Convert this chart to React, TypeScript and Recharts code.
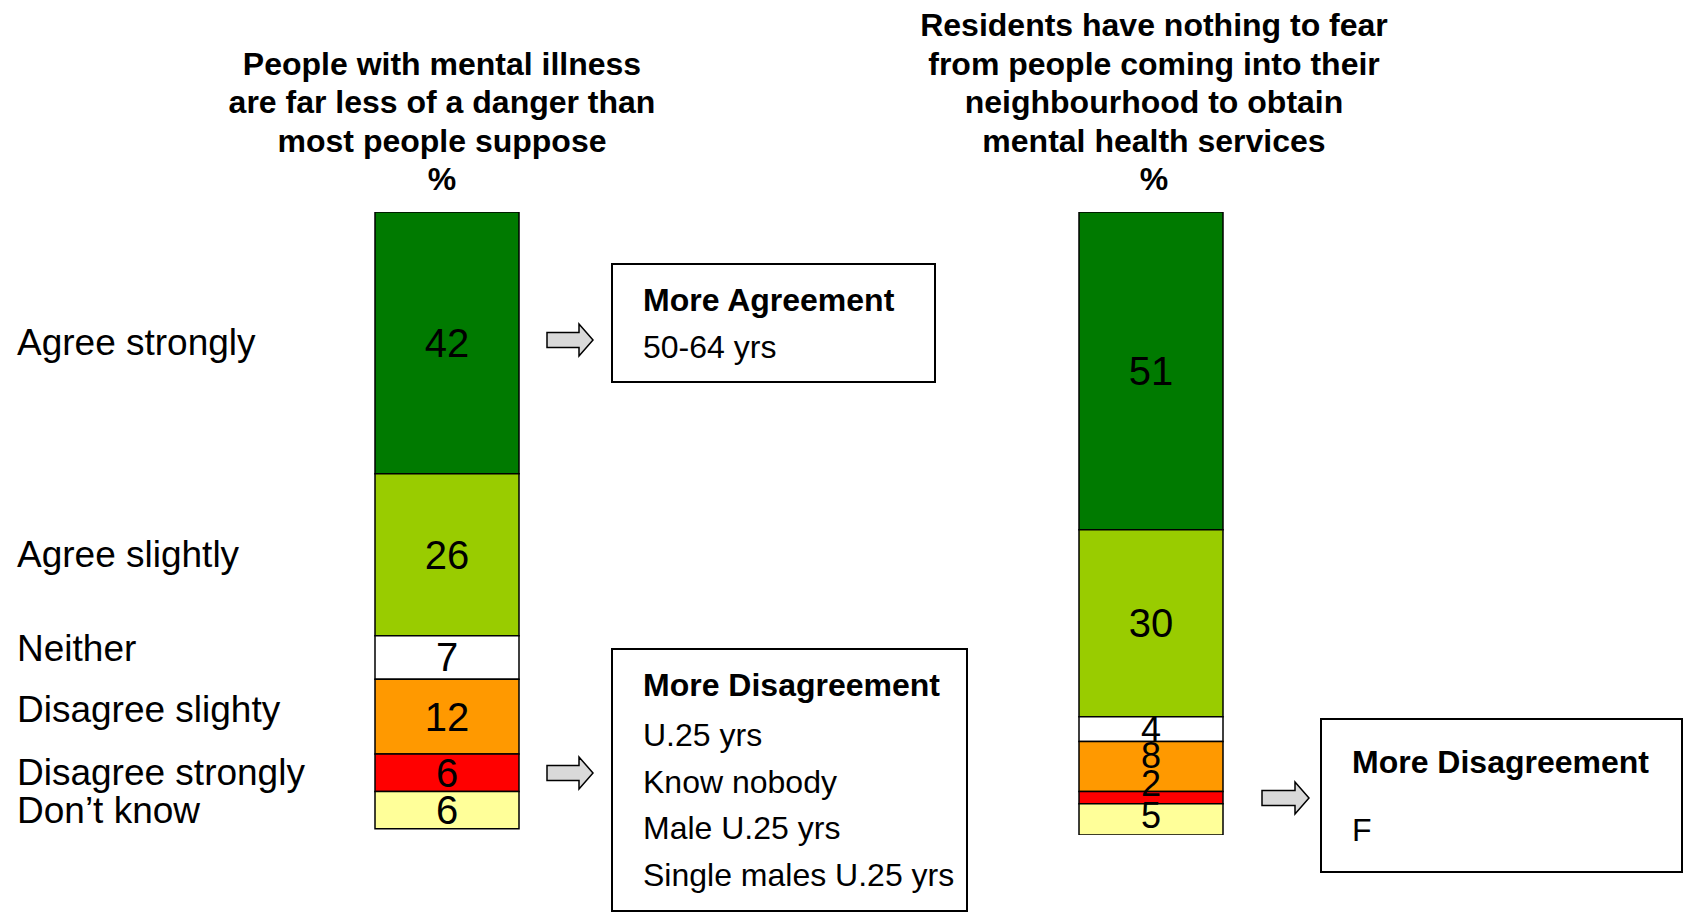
import { BarChart, Bar, XAxis, YAxis, LabelList } from 'recharts';

const FONT = '"Liberation Sans", Arial, sans-serif';

// two survey statements, one stacked column each
const questionKeys = ['danger', 'fear'];
const questionTitles = [
  ['People with mental illness', 'are far less of a danger than', 'most people suppose', '%'],
  ['Residents have nothing to fear', 'from people coming into their', 'neighbourhood to obtain', 'mental health services', '%'],
];

const responses = ['Agree strongly', 'Agree slightly', 'Neither', 'Disagree slighty', 'Disagree strongly', 'Don’t know'];
const dangerValues = [42, 26, 7, 12, 6, 6];
const fearValues = [51, 30, 4, 8, 2, 5];
const segmentColors = ['#007a00', '#99cc00', '#ffffff', '#ff9900', '#ff0000', '#ffff99'];

const agreeNote = ['More Agreement', '50-64 yrs'];
const disagreeNote = ['More Disagreement', 'U.25 yrs', 'Know nobody', 'Male U.25 yrs', 'Single males U.25 yrs'];
const fearNote = ['More Disagreement', 'F'];

const rows = questionKeys.map((q, qi) => {
  const vals = qi === 0 ? dangerValues : fearValues;
  const row: Record<string, string | number> = { question: q };
  vals.forEach((v, i) => {
    row[`r${i}`] = v;
  });
  return row;
});

// small nudges so crowded labels don't sit right on top of each other
const valueShift: Record<string, number> = { '1-3': -11, '1-4': -14, '1-5': -4 };
const rowShift: Record<number, number> = { 2: -9, 3: -7 };
const titleShift = [-5, 3];

const segmentLabel = (series: number) => (props: any) => {
  const vb = props.viewBox || {};
  const x = vb.x ?? props.x;
  const y = vb.y ?? props.y;
  const w = vb.width ?? props.width;
  const h = vb.height ?? props.height;
  const idx = props.index;
  const cy = y + h / 2;
  const crowded = idx === 1 && series >= 2;
  return (
    <g>
      <text
        x={x + w / 2}
        y={cy + (valueShift[`${idx}-${series}`] || 0)}
        textAnchor="middle"
        dominantBaseline="central"
        fontFamily={FONT}
        fontSize={crowded ? 36 : 40}
        fill="#000"
      >
        {props.value}
      </text>
      {idx === 0 && (
        <text
          x={17}
          y={cy + (rowShift[series] || 0)}
          textAnchor="start"
          dominantBaseline="central"
          fontFamily={FONT}
          fontSize={37}
          fill="#000"
        >
          {responses[series]}
        </text>
      )}
    </g>
  );
};

const TitleTick = (props: any) => {
  const { x, y, payload } = props;
  const qi = questionKeys.indexOf(payload.value);
  const lines = questionTitles[qi] || [];
  const n = lines.length;
  return (
    <g>
      {lines.map((line, i) => (
        <text
          key={i}
          x={x + (titleShift[qi] || 0)}
          y={y - 25 - (n - 1 - i) * 38.5}
          textAnchor="middle"
          dominantBaseline="central"
          fontFamily={FONT}
          fontWeight="bold"
          fontSize={32}
          fill="#000"
        >
          {line}
        </text>
      ))}
    </g>
  );
};

const Arrow = ({ x, cy, shaft = 32 }: { x: number; cy: number; shaft?: number }) => (
  <polygon
    points={[
      [x, cy - 7.5],
      [x + shaft, cy - 7.5],
      [x + shaft, cy - 16],
      [x + shaft + 14, cy],
      [x + shaft, cy + 16],
      [x + shaft, cy + 7.5],
      [x, cy + 7.5],
    ]
      .map((p) => p.join(','))
      .join(' ')}
    fill="#d9d9d9"
    stroke="#000"
    strokeWidth={1.5}
  />
);

const NoteBox = ({
  x,
  y,
  w,
  h,
  lines,
  firstY,
  second,
  gap,
}: {
  x: number;
  y: number;
  w: number;
  h: number;
  lines: string[];
  firstY: number;
  second: number;
  gap: number;
}) => (
  <g>
    <rect x={x} y={y} width={w} height={h} fill="#fff" stroke="#000" strokeWidth={2} />
    {lines.map((t, i) => (
      <text
        key={i}
        x={x + 31}
        y={i === 0 ? firstY : firstY + second + (i - 1) * gap}
        dominantBaseline="central"
        fontFamily={FONT}
        fontSize={32}
        fontWeight={i === 0 ? 'bold' : 'normal'}
        fill="#000"
      >
        {t}
      </text>
    ))}
  </g>
);

export default function App() {
  return (
    <div style={{ position: 'absolute', left: 0, top: 0, width: 1691, height: 916, background: '#fff' }}>
      <BarChart
        width={1691}
        height={916}
        data={rows}
        margin={{ top: 182, right: 188, bottom: 81, left: 95 }}
        barCategoryGap={0}
      >
        <XAxis
          dataKey="question"
          orientation="top"
          height={30}
          axisLine={false}
          tickLine={false}
          interval={0}
          tick={<TitleTick />}
        />
        <YAxis type="number" domain={[0, 100]} reversed hide allowDataOverflow />
        {responses.map((r, i) => (
          <Bar
            key={r}
            dataKey={`r${i}`}
            name={r}
            stackId="s"
            fill={segmentColors[i]}
            stroke="#000"
            strokeWidth={1.5}
            barSize={144}
            isAnimationActive={false}
          >
            <LabelList dataKey={`r${i}`} content={segmentLabel(i)} />
          </Bar>
        ))}
      </BarChart>
      <svg
        width={1691}
        height={916}
        style={{ position: 'absolute', left: 0, top: 0, pointerEvents: 'none' }}
      >
        <Arrow x={547} cy={340} />
        <Arrow x={547} cy={773} />
        <Arrow x={1262} cy={798} shaft={33} />
        <NoteBox x={612} y={264} w={323} h={118} lines={agreeNote} firstY={300} second={47} gap={47} />
        <NoteBox x={612} y={649} w={355} h={262} lines={disagreeNote} firstY={685} second={50} gap={46.7} />
        <NoteBox x={1321} y={719} w={361} h={153} lines={fearNote} firstY={762} second={68} gap={47} />
      </svg>
    </div>
  );
}
